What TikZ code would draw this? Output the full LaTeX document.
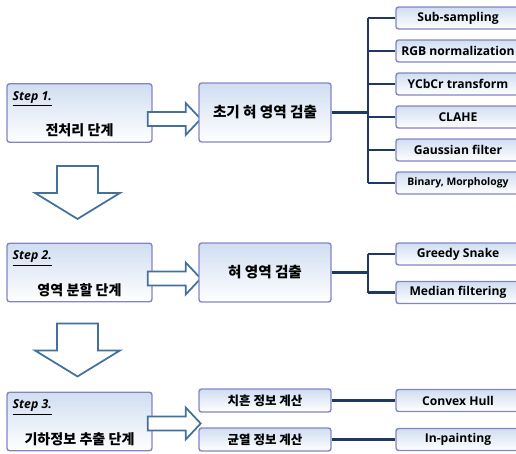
\documentclass[tikz,border=0pt]{standalone}
\usepackage{fontspec}
\newfontfamily\kr{Noto Sans CJK KR}
\newfontfamily\en{Open Sans}
\usetikzlibrary{calc}
\definecolor{boxtop}{RGB}{208,222,241}
\definecolor{boxline}{RGB}{132,132,196}
\definecolor{navy}{RGB}{31,56,100}
\definecolor{arrline}{RGB}{65,113,156}
\tikzset{
  box/.style={draw=boxline, line width=0.8pt, rounded corners=1.5pt, top color=boxtop, bottom color=white, inner sep=0pt},
  stepbox/.style={box, minimum width=2.9cm, minimum height=1.17cm},
  mainbox/.style={box, minimum width=2.64cm, minimum height=1.18cm, font=\kr\bfseries\fontsize{8.3}{10}\selectfont},
  calcbox/.style={box, minimum width=2.64cm, minimum height=0.46cm, font=\kr\bfseries\fontsize{7.1}{9}\selectfont},
  subbox/.style={box, minimum width=2.48cm, minimum height=0.44cm, font=\en\bfseries\fontsize{6.9}{8}\selectfont},
  steplbl/.style={anchor=north west, inner sep=0pt, font=\en\bfseries\itshape\fontsize{7}{8}\selectfont},
  stepname/.style={anchor=base, inner sep=0pt, font=\kr\bfseries\fontsize{8}{10}\selectfont},
  conn/.style={draw=navy, line width=1.4pt},
  blockarr/.style={draw=arrline, line width=1pt, fill=white, line join=miter}
}
% block arrows, in px
\newcommand\rblock[1]{\draw[blockarr] (#1) ++(0,-7) -- ++(38,0) -- ++(0,-9) -- ++(15,16) -- ++(-15,16) -- ++(0,-9) -- ++(-38,0) -- cycle;}
\newcommand\dblock[1]{\draw[blockarr] (#1) ++(-20.5,0) -- ++(41,0) -- ++(0,27) -- ++(22,0) -- ++(-42.5,26) -- ++(-42.5,-26) -- ++(22,0) -- cycle;}

\begin{document}
\begin{tikzpicture}[x=0.02cm, y=-0.02cm]
\useasboundingbox (0,0) rectangle (516,453);
\clip (0,0) rectangle (516,453);

% step boxes
\node[stepbox] (s1) at (79.5,113) {};
\node[stepbox] (s2) at (79.5,272.5) {};
\node[stepbox] (s3) at (79.5,421.5) {};
\node[steplbl] (l1) at ($(s1.north west)+(6,8)$) {\underline{Step 1.}};
\node[steplbl] (l2) at ($(s2.north west)+(6,8)$) {\underline{Step 2.}};
\node[steplbl] (l3) at ($(s3.north west)+(6,8)$) {\underline{Step 3.}};
\node[stepname] (n1) at ($(s1.south)+(0,-7)$) {전처리 단계};
\node[stepname] (n2) at ($(s2.south)+(0,-7)$) {영역 분할 단계};
\node[stepname] (n3) at ($(s3.south)+(0,-7)$) {기하정보 추출 단계};

\rblock{$(s1.east)+(-5,6)$}
\rblock{$(s2.east)+(-5,6)$}
\rblock{$(s3.east)+(-5,2)$}
\dblock{$(s1.south)+(-2,23)$}
\dblock{$(s2.south)+(-2,21)$}

% step 1
\node[mainbox] (a1) at (265,112.5) {초기 혀 영역 검출};
\coordinate (j1) at (368,112.5);
\foreach \t [count=\i from 0] in {Sub-sampling, RGB normalization, YCbCr transform, CLAHE, Gaussian filter}
  \node[subbox] (f\i) at (458,18+33*\i) {\t};
\node[subbox, font=\en\bfseries\fontsize{5.9}{7}\selectfont] (f5) at (458,183) {Binary, Morphology};
\draw[conn] (a1.east) -- (j1);
\draw[conn] (j1 |- f0.west) -- (j1 |- f5.west);
\foreach \i in {0,...,5} \draw[conn] (j1 |- f\i.west) -- (f\i.west);

% step 2
\node[mainbox] (a2) at (265,272.5) {혀 영역 검출};
\coordinate (j2) at (368,272.5);
\node[subbox] (g1) at (458,254) {Greedy Snake};
\node[subbox] (g2) at (458,292.5) {Median filtering};
\draw[conn] (a2.east) -- (j2);
\draw[conn] (j2 |- g1.west) -- (j2 |- g2.west);
\draw[conn] (j2 |- g1.west) -- (g1.west);
\draw[conn] (j2 |- g2.west) -- (g2.west);

% step 3
\node[calcbox] (c1) at (265,400.5) {치흔 정보 계산};
\node[calcbox] (c2) at (265,439.5) {균열 정보 계산};
\node[subbox] (h1) at (458,400.5) {Convex Hull};
\node[subbox] (h2) at (458,439.5) {In-painting};
\draw[conn] (c1.east) -- (h1.west);
\draw[conn] (c2.east) -- (h2.west);
\end{tikzpicture}
\end{document}
